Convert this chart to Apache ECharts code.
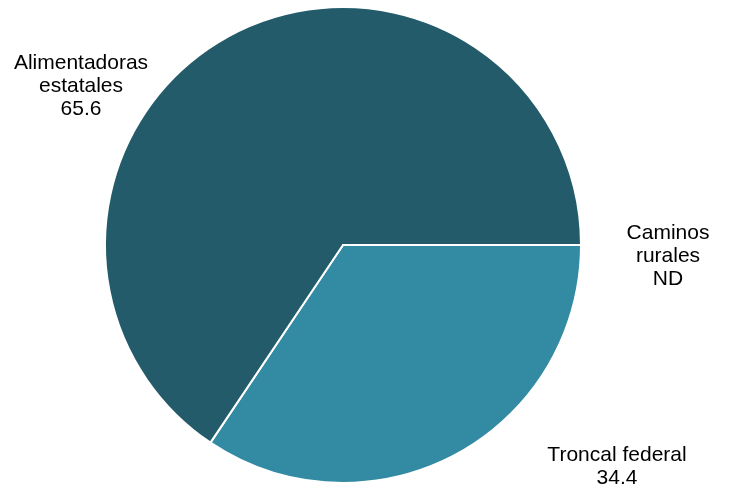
<!DOCTYPE html>
<html><head><meta charset="utf-8">
<script src="https://cdn.jsdelivr.net/npm/echarts@6/dist/echarts.min.js"></script>
<style>html,body{margin:0;padding:0;background:#fff}#c{width:729px;height:496px}</style>
</head><body><div id="c"></div>
<script>
const categories = ['Troncal federal', 'Alimentadoras\nestatales', 'Caminos\nrurales'];
const values = [34.4, 65.6, 0];
const valueLabels = ['34.4', '65.6', 'ND'];
const colors = ['#338AA3', '#235B6B', '#9FC9D6'];
const labelPos = [[617, 467], [81, 86], [668, 256]];

const chart = echarts.init(document.getElementById('c'), null, {renderer: 'canvas'});
chart.setOption({
  animation: false,
  series: [{
    type: 'pie',
    center: [343, 245],
    radius: 238,
    startAngle: 0,
    clockwise: true,
    avoidLabelOverlap: false,
    itemStyle: {borderColor: '#ffffff', borderWidth: 2},
    label: {
      show: true,
      position: 'outside',
      fontFamily: 'Liberation Sans, Arial, sans-serif',
      fontSize: 21,
      lineHeight: 23,
      color: '#000000',
      align: 'center',
      formatter: p => p.name + '\n' + valueLabels[p.dataIndex]
    },
    labelLine: {show: false},
    labelLayout: p => ({x: labelPos[p.dataIndex][0], y: labelPos[p.dataIndex][1], align: 'center', verticalAlign: 'middle'}),
    emphasis: {disabled: true},
    data: categories.map((n, i) => ({name: n, value: values[i], itemStyle: {color: colors[i]}}))
  }]
});
</script></body></html>
